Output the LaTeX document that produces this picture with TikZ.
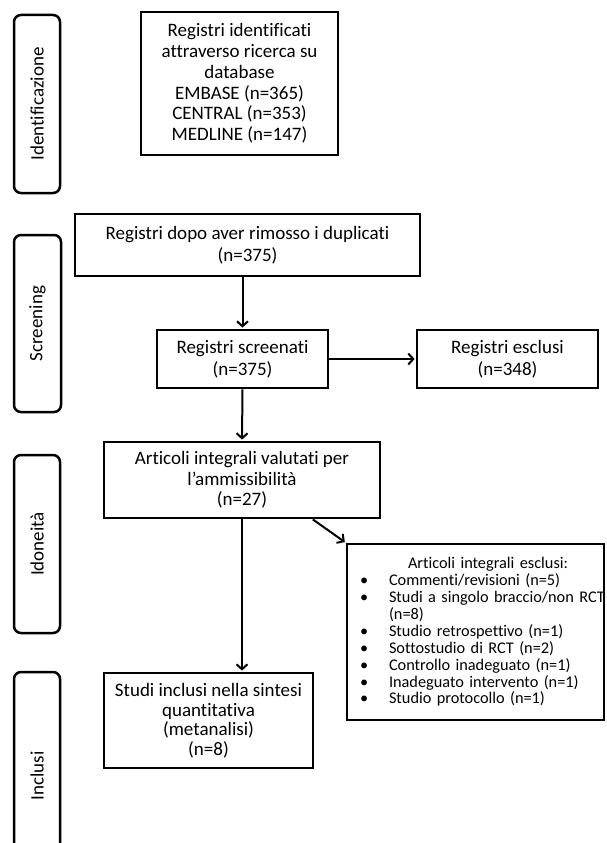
\documentclass[tikz,border=0pt]{standalone}
\usepackage{fontspec}
\setmainfont{Carlito}[Ligatures={NoCommon}]
\usetikzlibrary{arrows.meta,calc}
\newcommand{\blt}[1]{\makebox[39pt][l]{\hspace*{10pt}\textbullet}\makebox[0pt][l]{#1}}
\begin{document}
\begin{tikzpicture}[x=1pt,y=-1pt,
  box/.style={draw, line width=2.8pt, align=center, inner sep=0pt, font=\fontsize{19}{21.7}\selectfont},
  phase/.style={draw, line width=2.5pt, rounded corners=7pt, rotate=90, inner sep=0pt, font=\fontsize{19}{21}\selectfont},
  arr/.style={line width=2pt, shorten >=1pt, -{Straight Barb[length=5pt,width=11pt]}}]
\useasboundingbox[fill=white] (0,0) rectangle (606,843);

% phase labels
\node[phase, minimum width=178pt, minimum height=46pt] (ph1) at (37,104) {Identificazione};
\node[phase, minimum width=177pt, minimum height=47pt] (ph2) at (37.5,323.5) {Screening};
\node[phase, minimum width=178pt, minimum height=46pt] (ph3) at (37,544) {Idoneità};
\node[phase, minimum width=208pt, minimum height=46pt] (ph4) at (37,776) {Inclusi};

% boxes
\node[box, minimum width=197pt, minimum height=143pt, font=\fontsize{19}{20.8}\selectfont] (b1) at (239.5,83.5)
  {Registri identificati\\attraverso ricerca su\\database\\EMBASE (n=365)\\CENTRAL (n=353)\\MEDLINE (n=147)};
\node[box, minimum width=345pt, minimum height=62pt] (b2) at (247.5,245)
  {Registri dopo aver rimosso i duplicati\\(n=375)};
\node[box, minimum width=171pt, minimum height=58pt] (b3) at (242.5,359)
  {Registri screenati\\(n=375)};
\node[box, minimum width=181pt, minimum height=58pt] (b3x) at (507.5,359)
  {Registri esclusi\\(n=348)};
\node[box, minimum width=276pt, minimum height=76pt, font=\fontsize{19}{20.5}\selectfont] (b4) at (242,480)
  {Articoli integrali valutati per\\l’ammissibilità\\(n=27)};
\node[box, minimum width=257pt, minimum height=176pt, text width=251pt, align=left,
      font=\fontsize{16.3}{16.9}\selectfont] (b5) at (475.5,632)
  {\hspace*{58pt}\makebox[0pt][l]{Articoli integrali esclusi:}\\
   \blt{Commenti/revisioni (n=5)}\\
   \blt{Studi a singolo braccio/non RCT}\\
   \hspace*{39pt}\makebox[0pt][l]{(n=8)}\\
   \blt{Studio retrospettivo (n=1)}\\
   \blt{Sottostudio di RCT (n=2)}\\
   \blt{Controllo inadeguato (n=1)}\\
   \blt{Inadeguato intervento (n=1)}\\
   \blt{Studio protocollo (n=1)}\par\vspace{22pt}};
\node[box, minimum width=209pt, minimum height=95pt, font=\fontsize{19}{19.5}\selectfont] (b6) at (208.5,720.5)
  {Studi inclusi nella sintesi\\quantitativa\\(metanalisi)\\(n=8)};

% connectors
\draw[arr] (b3.north |- b2.south) -- (b3.north);
\draw[arr] (b3.east) -- (b3x.west);
\draw[arr] (b3.south) -- (b4.north);
\draw[arr] ($(b4.south east)!0.246!(b4.south west)$) -- (b5.north west);
\draw[arr] (b4.south) -- (b4.south |- b6.north);
\end{tikzpicture}
\end{document}
